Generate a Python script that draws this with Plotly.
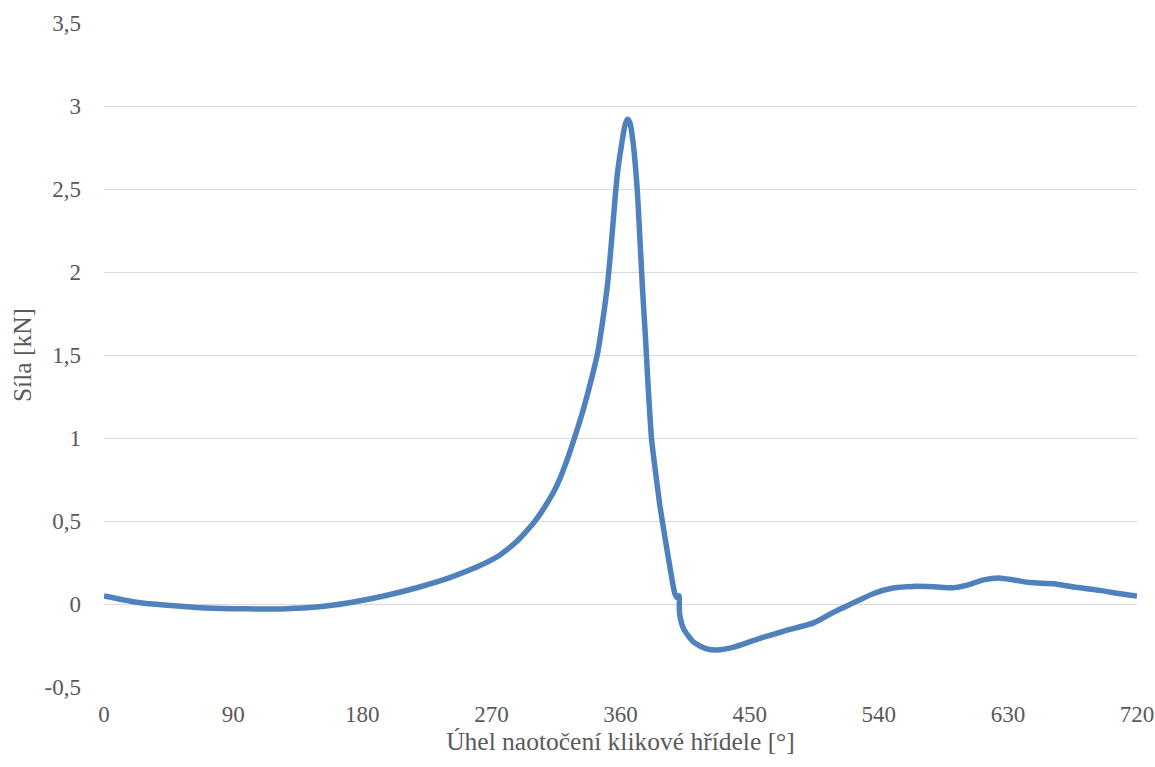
import plotly.graph_objects as go

angle = [0, 20, 44, 67, 90, 109, 127, 148, 171, 195, 218, 241, 264, 276, 282, 288, 294, 300, 305,
         309, 314, 318, 322, 326, 333, 339, 344, 348, 351, 353.4, 355.7, 357.8, 360.8, 363, 364.8,
         366.5, 368.9, 371.7, 373.6, 375.4, 377.5, 379.4, 381.7, 384.5, 387.5, 391, 394.5, 398,
         400, 400.8, 401.2, 404, 411, 420, 427, 439, 455, 474, 495, 508, 525, 536, 550, 564, 578,
         592, 601, 613, 623.5, 634, 645.5, 662, 676, 694, 708, 720]
force = [0.048, 0.014, -0.008, -0.022, -0.028, -0.030, -0.028, -0.018, 0.008, 0.048, 0.098, 0.159,
         0.239, 0.295, 0.335, 0.38, 0.435, 0.495, 0.555, 0.61, 0.685, 0.76, 0.85, 0.95, 1.14, 1.33, 1.51,
         1.73, 1.93, 2.15, 2.39, 2.59, 2.77, 2.88, 2.92, 2.90, 2.77, 2.49, 2.19, 1.89, 1.59, 1.29,
         0.99, 0.79, 0.59, 0.40, 0.22, 0.06, 0.035, 0.05, -0.06, -0.15, -0.23, -0.27, -0.277, -0.26,
         -0.213, -0.163, -0.112, -0.052, 0.018, 0.062, 0.096, 0.106, 0.104, 0.098, 0.112, 0.145,
         0.157, 0.145, 0.129, 0.122, 0.102, 0.082, 0.062, 0.048]

x_ticks = [0, 90, 180, 270, 360, 450, 540, 630, 720]
y_ticks = [-0.5, 0, 0.5, 1, 1.5, 2, 2.5, 3, 3.5]
y_labels = ["-0,5", "0", "0,5", "1", "1,5", "2", "2,5", "3", "3,5"]

fig = go.Figure()
fig.add_trace(go.Scatter(x=angle, y=force, mode="lines",
                         line=dict(color="#4f81bd", width=5.5, shape="spline", smoothing=0.6)))

font_fam = "Liberation Serif"
fig.update_layout(
    width=1155, height=767,
    margin=dict(l=104, r=18, t=23, b=80),
    paper_bgcolor="white", plot_bgcolor="white",
    showlegend=False,
    font=dict(family=font_fam, color="#595959", size=23),
    xaxis=dict(range=[0, 720], tickvals=x_ticks, showgrid=False, zeroline=False,
               showline=False, ticks="", tickfont=dict(family=font_fam, size=23),
               automargin=False, ticklabelstandoff=11,
               title=dict(text="Úhel naotočení klikové hřídele [°]",
                          font=dict(family=font_fam, size=25.5), standoff=5)),
    yaxis=dict(range=[-0.5, 3.5], tickvals=y_ticks, ticktext=y_labels, showgrid=True,
               gridcolor="#d9d9d9", gridwidth=1.3, zeroline=False, showline=False, ticks="",
               tickfont=dict(family=font_fam, size=23), ticklabelstandoff=22, automargin=False,
               title=dict(text="Síla [kN]", font=dict(family=font_fam, size=25.5), standoff=5)),
)
fig.write_html("out.html", config={"displayModeBar": False},
               post_script="document.body.style.margin='0';document.body.style.overflow='hidden';")
